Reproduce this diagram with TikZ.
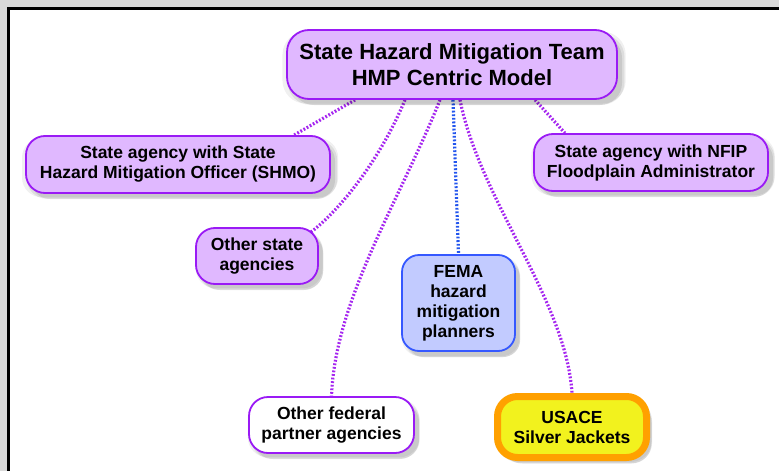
\documentclass[tikz,border=0pt]{standalone}
\usepackage{fontspec}
\setmainfont{Liberation Sans}
\usetikzlibrary{shadows,calc}
\pgfdeclarelayer{background}
\pgfdeclarelayer{back2}
\pgfsetlayers{back2,background,main}
\definecolor{violetfill}{HTML}{E0B8FF}
\definecolor{violetline}{HTML}{9A1AF5}
\definecolor{linkviolet}{HTML}{A526F0}
\definecolor{femafill}{HTML}{C2CBFF}
\definecolor{femaline}{HTML}{3558FF}
\definecolor{linkblue}{HTML}{2255EE}
\definecolor{usacefill}{HTML}{F2F21E}
\definecolor{usaceline}{HTML}{FFA000}
\definecolor{screengray}{HTML}{D9D9D9}
\tikzset{
  softshadow/.style={
    drop shadow={shadow xshift=2pt, shadow yshift=-3pt, shadow scale=1.04, opacity=0.06, fill=black, draw=none},
    drop shadow={shadow xshift=4pt, shadow yshift=-5pt, shadow scale=1.02, opacity=0.08, fill=black, draw=none},
    drop shadow={shadow xshift=5pt, shadow yshift=-6pt, opacity=0.09, fill=black, draw=none}},
  box/.style={draw=violetline, fill=violetfill, line width=1.8pt, rounded corners=19pt,
    align=center, inner sep=0pt, softshadow,
    font=\bfseries\fontsize{17.5}{20}\selectfont},
  link/.style={linkviolet, line width=3.2pt, dash pattern=on 1.8pt off 1.8pt},
  bluelink/.style={linkblue, line width=3.2pt, dash pattern=on 1.8pt off 1.8pt},
}
\begin{document}
\begin{tikzpicture}[x=1pt,y=-1pt]
\useasboundingbox (0,0) rectangle (779,471);
\begin{pgfonlayer}{back2}
\fill[screengray] (0,0) rectangle (779,471);
\fill[white] (9,9) rectangle (779,471);
\draw[black, line width=2.6pt] (8.5,471) -- (8.5,8.5) -- (779,8.5);
\end{pgfonlayer}

\node[box, minimum width=330pt, minimum height=69pt, rounded corners=22pt,
  font=\bfseries\fontsize{22}{26}\selectfont] (top) at (452,64.5)
  {State Hazard Mitigation Team\\HMP Centric Model};

\node[box, minimum width=304pt, minimum height=57pt] (shmo) at (178,164.5)
  {State agency with State\\Hazard Mitigation Officer (SHMO)};

\node[box, minimum width=234pt, minimum height=57pt] (nfip) at (651,162.5)
  {State agency with NFIP\\Floodplain Administrator};

\node[box, minimum width=122pt, minimum height=56pt] (ostate) at (257,256)
  {Other state\\agencies};

\node[box, draw=femaline, fill=femafill, minimum width=113pt, minimum height=96pt,
  rounded corners=17pt] (fema) at (458.5,303)
  {FEMA\\hazard\\mitigation\\planners};

\node[box, fill=white, minimum width=165pt, minimum height=56pt] (fed) at (331.5,425)
  {Other federal\\partner agencies};

\node[box, draw=usaceline, fill=usacefill, line width=7pt, minimum width=149pt,
  minimum height=61pt, rounded corners=20pt] (usace) at (572,427)
  {USACE\\Silver Jackets};

\begin{pgfonlayer}{background}
\draw[link] ([xshift=-97pt]top.south) -- ([xshift=116pt]shmo.north);
\draw[link] ([xshift=83pt]top.south) -- ([xshift=-86pt]nfip.north);
\draw[link] ([xshift=-47pt]top.south) .. controls (380,160) and (340,210) .. ([xshift=-8pt,yshift=-5pt]ostate.north east);
\draw[link] ([xshift=-12pt]top.south) .. controls (400,200) and (335,300) .. (fed.north);
\draw[bluelink] ([xshift=1pt]top.south) -- (fema.north);
\draw[link] ([xshift=8pt]top.south) .. controls (480,200) and (566,300) .. (usace.north);
\end{pgfonlayer}
\end{tikzpicture}
\end{document}
